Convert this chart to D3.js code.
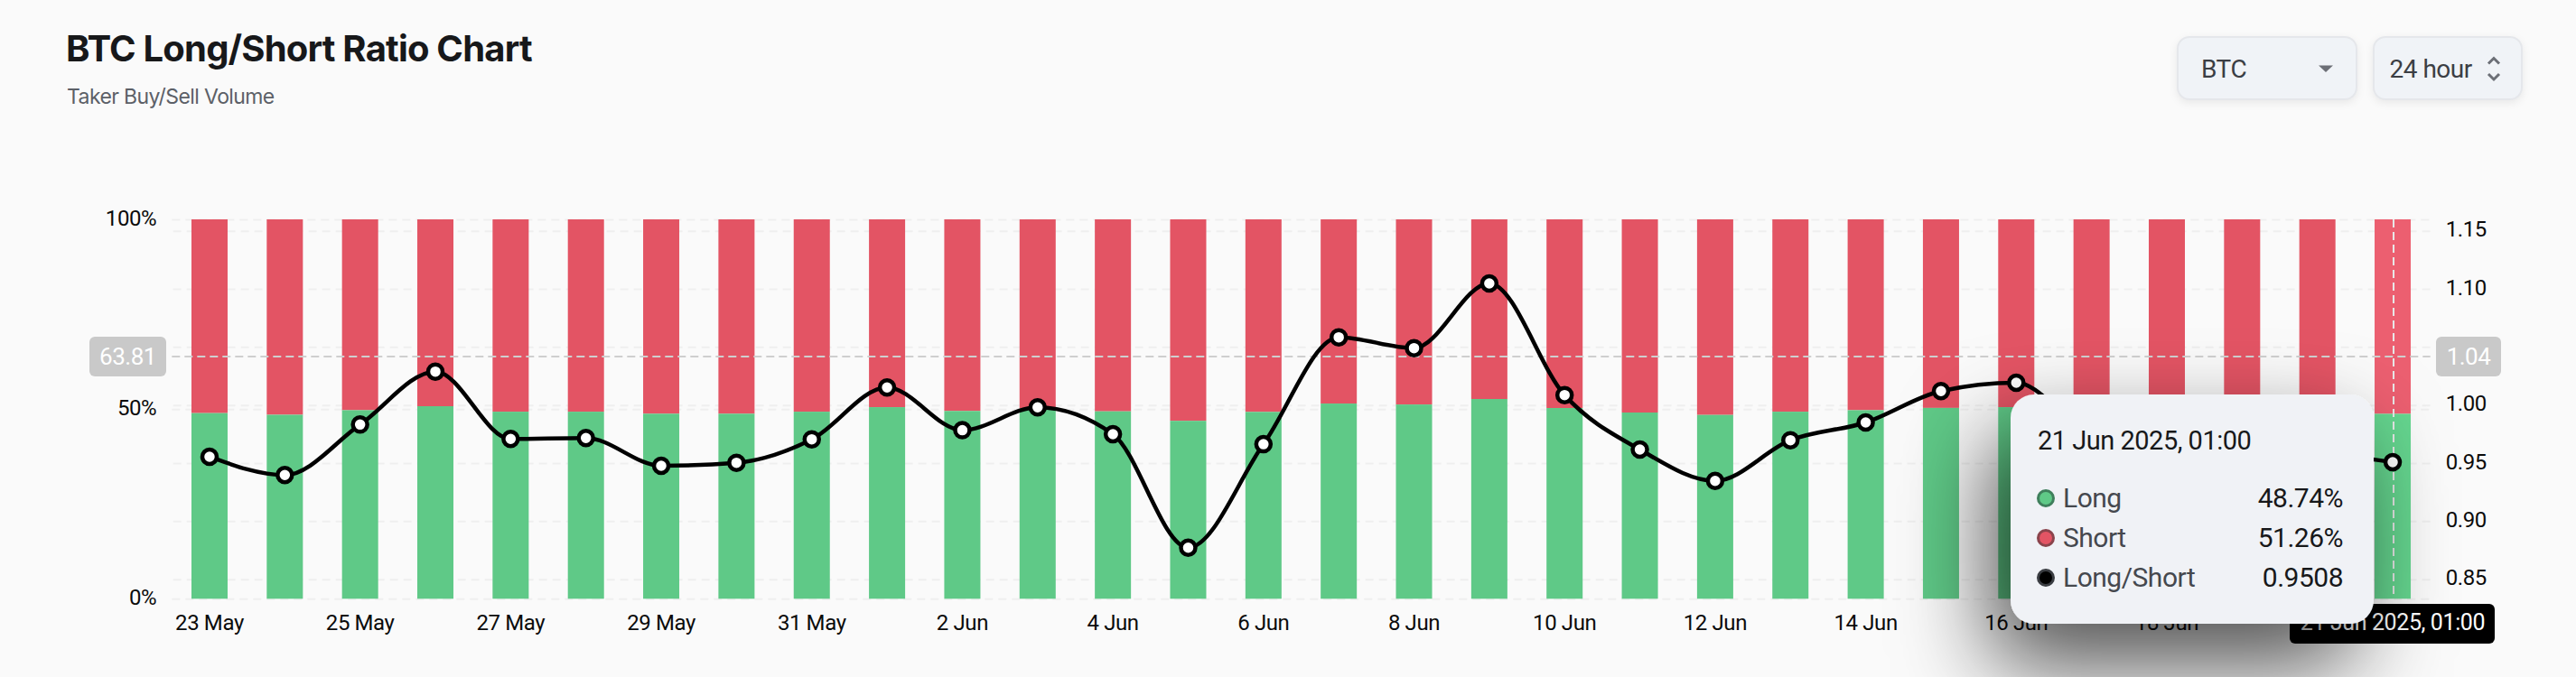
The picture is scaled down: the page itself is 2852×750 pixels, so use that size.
<!DOCTYPE html>
<html>
<head>
<meta charset="utf-8">
<script src="https://cdn.jsdelivr.net/npm/d3@7"></script>
<style>
  html, body { margin: 0; padding: 0; background: #fafafa; }
  svg { display: block; }
  text { font-family: Roboto, sans-serif; }
  .tick text { font-size: 24px; fill: #0b0b0b; letter-spacing: -0.4px; }
  .domain { display: none; }
  .grid line { stroke: #efefef; stroke-width: 2; stroke-dasharray: 9 6; }
</style>
</head>
<body>
<svg id="chart" width="2852" height="750"></svg>
<script>
const dates = ['23 May','24 May','25 May','26 May','27 May','28 May','29 May','30 May','31 May','1 Jun',
  '2 Jun','3 Jun','4 Jun','5 Jun','6 Jun','7 Jun','8 Jun','9 Jun','10 Jun','11 Jun',
  '12 Jun','13 Jun','14 Jun','15 Jun','16 Jun','17 Jun','18 Jun','19 Jun','20 Jun','21 Jun'];
const longPct = [48.93,48.5,49.7,50.75,49.3,49.3,48.77,48.77,49.3,50.5,
  49.5,50.2,49.4,46.9,49.25,51.45,51.2,52.65,50.27,49.08,
  48.45,49.3,49.7,50.3,50.5,49.4,49.6,49.2,49.0,48.74];
const ratio = [0.9555,0.9397,0.9832,1.0288,0.9708,0.9716,0.9477,0.9503,0.9705,1.0151,
  0.9783,0.998,0.9749,0.8772,0.9663,1.0583,1.049,1.1047,1.0086,0.9617,
  0.9347,0.9697,0.985,1.012,1.0192,0.98,0.985,0.97,0.96,0.9508];
const pctTicks = [0,50,100];
const ratioTicks = [0.85,0.90,0.95,1.00,1.05,1.10,1.15];
const dateTicks = ['23 May','25 May','27 May','29 May','31 May','2 Jun','4 Jun','6 Jun','8 Jun','10 Jun','12 Jun','14 Jun','16 Jun','18 Jun'];
const hoverIndex = 29;
const hoverPct = 63.81;
const hoverRatio = 1.04;

const red = '#e35464', green = '#5fc987';
const redHover = '#ec5f70', greenHover = '#65d68f';

let svg = d3.select('#chart');

// scales
let x = d3.scaleBand().domain(dates).range([190.3,2690.7]).paddingInner(0.52).paddingOuter(0.26);
let yPct = d3.scaleLinear().domain([0,100]).range([663.3,243]);
let yRatio = d3.scaleLinear().domain([0.85,1.15]).range([641.7,255.7]);
let cx = i => x(dates[i]) + x.bandwidth()/2;

// header
svg.append('text').attr('x',73).attr('y',68).text('BTC Long/Short Ratio Chart')
  .style('font-family','Inter').style('font-weight',700).style('font-size','40px')
  .style('letter-spacing','-0.8px').style('fill','#17181a');
svg.append('text').attr('x',74).attr('y',115).text('Taker Buy/Sell Volume')
  .style('font-family','Inter').style('font-size','23px').style('letter-spacing','-0.6px').style('fill','#5c6067');

function selectBox(bx, w, label, tx){
  let g = svg.append('g');
  g.append('rect').attr('x',bx).attr('y',41).attr('width',w).attr('height',69).attr('rx',13)
    .attr('fill','#f0f3f7').attr('stroke','#e5e7eb').attr('stroke-width',2)
    .style('filter','drop-shadow(0 3px 4px rgba(0,0,0,.07))');
  g.append('text').attr('x',tx).attr('y',86).text(label)
    .style('font-size','28px').style('letter-spacing','-0.5px').style('fill','#3b3e44');
  return g;
}
selectBox(2411,198,'BTC',2437).append('path').attr('d','M2567 72.5H2583L2575 80Z').attr('fill','#6c6f76');
selectBox(2628,164,'24 hour',2645.5).append('path')
  .attr('d','M2755 70.5L2761 64.5L2767 70.5M2755 82L2761 88L2767 82')
  .attr('fill','none').attr('stroke','#6c6f76').attr('stroke-width',3);

// axes and grid
let leftAxis = svg.append('g').attr('class','grid').attr('transform','translate(190.3,0)')
  .call(d3.axisLeft(yPct).tickValues(pctTicks).tickSize(-2500.4).tickPadding(17).tickFormat(d=>d+'%'));
// 1.05 sits under the crosshair tag
let rightAxis = svg.append('g').attr('class','grid').attr('transform','translate(2690.7,0)')
  .call(d3.axisRight(yRatio).tickValues(ratioTicks).tickSize(-2500.4).tickPadding(17)
    .tickFormat(d=>d==1.05?'':d3.format('.2f')(d)));
let bottomAxis = svg.append('g').attr('transform','translate(0,663.3)')
  .call(d3.axisBottom(x).tickValues(dateTicks).tickSize(0).tickPadding(18));
leftAxis.selectAll('text').attr('dy','0.26em');
rightAxis.selectAll('text').attr('dy','0.26em');
bottomAxis.selectAll('text').attr('dy','0.68em');

// stacked bars
svg.append('g').selectAll('rect').data(dates).join('rect')
  .attr('x',d=>x(d)).attr('width',x.bandwidth())
  .attr('y',yPct(100))
  .attr('height',(d,i)=>yPct(longPct[i])-yPct(100))
  .attr('fill',(d,i)=>i==hoverIndex?redHover:red);
svg.append('g').selectAll('rect').data(dates).join('rect')
  .attr('x',d=>x(d)).attr('width',x.bandwidth())
  .attr('y',(d,i)=>yPct(longPct[i]))
  .attr('height',(d,i)=>yPct(0)-yPct(longPct[i]))
  .attr('fill',(d,i)=>i==hoverIndex?greenHover:green);

// crosshair
svg.append('line').attr('x1',190.3).attr('x2',2690.7).attr('y1',yPct(hoverPct)).attr('y2',yPct(hoverPct))
  .attr('stroke','#cfcfcf').attr('stroke-width',2).attr('stroke-dasharray','9 5');
svg.append('line').attr('x1',cx(hoverIndex)+1).attr('x2',cx(hoverIndex)+1).attr('y1',yPct(100)).attr('y2',yPct(0))
  .attr('stroke','#e8e8e8').attr('stroke-width',2).attr('stroke-dasharray','9 5');

// ratio line
let line = d3.line().x((d,i)=>cx(i)).y(d=>yRatio(d)).curve(d3.curveMonotoneX);
svg.append('path').datum(ratio).attr('d',line).attr('fill','none').attr('stroke','#000').attr('stroke-width',4.5);
svg.append('g').selectAll('circle').data(ratio).join('circle')
  .attr('cx',(d,i)=>cx(i)).attr('cy',d=>yRatio(d)).attr('r',8)
  .attr('fill','#fff').attr('stroke','#000').attr('stroke-width',4.5);

// crosshair value labels
function valueTag(bx, w, label){
  let py = yPct(hoverPct);
  svg.append('rect').attr('x',bx).attr('y',py-22).attr('width',w).attr('height',44).attr('rx',6).attr('fill','#c9c9c9');
  svg.append('text').attr('x',bx+w/2).attr('y',py+9).attr('text-anchor','middle').text(label)
    .style('font-size','26px').style('letter-spacing','-0.5px').style('fill','#fff');
}
valueTag(99,85,hoverPct.toFixed(2));
valueTag(2697,72,hoverRatio.toFixed(2));

// date tag under the crosshair
svg.append('rect').attr('x',2535).attr('y',669).attr('width',227).attr('height',44).attr('rx',6).attr('fill','#000');
svg.append('text').attr('x',2649).attr('y',698).attr('text-anchor','middle').text('21 Jun 2025, 01:00')
  .style('font-size','25px').style('letter-spacing','-0.4px').style('fill','#fff');

// tooltip
let defs = svg.append('defs');
let f = defs.append('filter').attr('id','tipShadow').attr('filterUnits','userSpaceOnUse')
  .attr('x',1800).attr('y',200).attr('width',1052).attr('height',550);
f.append('feDropShadow').attr('dx',-22).attr('dy',46).attr('stdDeviation',50)
  .attr('flood-color','#000').attr('flood-opacity',0.68);
let tip = svg.append('g');
tip.append('rect').attr('x',2226).attr('y',437).attr('width',402).attr('height',254).attr('rx',26)
  .attr('fill','#f0f2f6').attr('filter','url(#tipShadow)');
tip.append('text').attr('x',2256).attr('y',498).text('21 Jun 2025, 01:00')
  .style('font-size','29px').style('letter-spacing','-0.5px').style('fill','#17181a');
let rows = [
  {name:'Long', color:green, stroke:'#3f7f5c', value:longPct[hoverIndex].toFixed(2)+'%', base:562},
  {name:'Short', color:red, stroke:'#8a444c', value:(100-longPct[hoverIndex]).toFixed(2)+'%', base:606},
  {name:'Long/Short', color:'#000', stroke:'#3a3d42', value:ratio[hoverIndex].toFixed(4), base:650}
];
rows.forEach(r=>{
  tip.append('circle').attr('cx',2265).attr('cy',r.base-10).attr('r',8.5)
    .attr('fill',r.color).attr('stroke',r.stroke).attr('stroke-width',3);
  tip.append('text').attr('x',2284).attr('y',r.base).text(r.name)
    .style('font-size','30px').style('letter-spacing','-0.5px').style('fill','#45484e');
  tip.append('text').attr('x',2594).attr('y',r.base).attr('text-anchor','end').text(r.value)
    .style('font-size','30px').style('letter-spacing','-0.5px').style('fill','#17181a');
});
</script>
</body>
</html>
